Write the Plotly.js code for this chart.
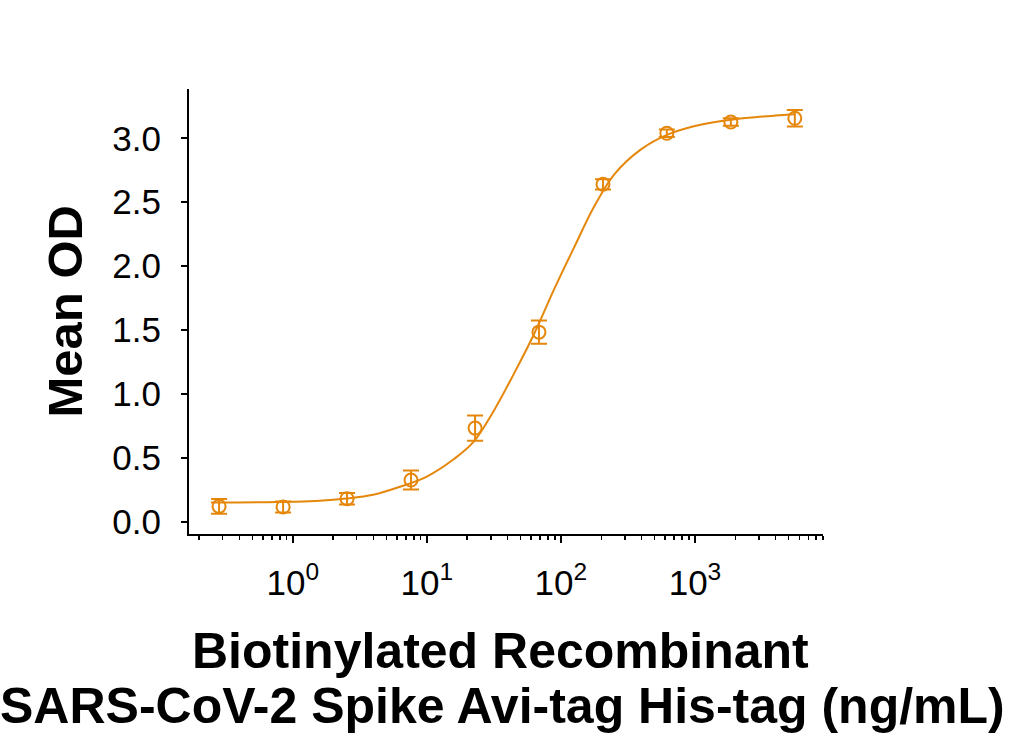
<!DOCTYPE html>
<html>
<head>
<meta charset="utf-8">
<script src="https://cdn.plot.ly/plotly-3.0.1.min.js"></script>
<style>
  html, body { margin: 0; padding: 0; background: #ffffff; }
  #chart { width: 1014px; height: 738px; }
</style>
</head>
<body>
<div id="chart"></div>
<script>
// Concentration of biotinylated spike protein (ng/mL), 3-fold serial dilution
const concentration = [0.282, 0.847, 2.54, 7.62, 22.9, 68.6, 206, 617, 1852, 5556];
// Mean optical density and its error for each concentration
const meanOD = [0.122, 0.117, 0.182, 0.328, 0.734, 1.484, 2.64, 3.039, 3.127, 3.156];
const odError = [0.057, 0.043, 0.045, 0.075, 0.098, 0.091, 0.04, 0.03, 0.03, 0.065];

// Fitted sigmoidal curve, sampled along the concentration axis
const fitConcentration = [0.245, 0.398, 0.631, 1, 1.585, 2.512, 3.981, 6.31, 10, 15.85, 22.39,
  31.62, 44.67, 63.1, 89.1, 125.9, 177.8, 251.2, 398.1, 631, 1000, 1585, 2512, 3981, 5623];
const fitOD = [0.152, 0.153, 0.155, 0.158, 0.165, 0.183, 0.213, 0.275, 0.355, 0.49, 0.628,
  0.87, 1.16, 1.47, 1.82, 2.15, 2.47, 2.72, 2.915, 3.03, 3.095, 3.135, 3.16, 3.177, 3.187];

// Axis ticks
const xMajorTicks = [1, 10, 100, 1000];
const xMajorLabels = ['10<sup>0</sup>', '10<sup>1</sup>', '10<sup>2</sup>', '10<sup>3</sup>'];
const yTicks = [0, 0.5, 1.0, 1.5, 2.0, 2.5, 3.0];

const xMinorTicks = [];
for (let decade = -1; decade <= 3; decade++) {
  for (let m = 2; m <= 9; m++) xMinorTicks.push(m * Math.pow(10, decade));
}

const orange = '#E5870B';
const font = 'Liberation Sans, Arial, Helvetica, sans-serif';

const fit = {
  x: fitConcentration,
  y: fitOD,
  type: 'scatter',
  mode: 'lines',
  line: { color: orange, width: 2, shape: 'spline', smoothing: 1 },
  hoverinfo: 'skip',
  showlegend: false
};

const points = {
  x: concentration,
  y: meanOD,
  type: 'scatter',
  mode: 'markers',
  marker: { symbol: 'circle-open', size: 13, color: orange, line: { width: 2, color: orange } },
  error_y: { type: 'data', array: odError, visible: true, color: orange, thickness: 2, width: 8 },
  showlegend: false
};

const layout = {
  width: 1014,
  height: 738,
  margin: { l: 189, r: 191, t: 89, b: 204 },
  paper_bgcolor: '#ffffff',
  plot_bgcolor: '#ffffff',
  showlegend: false,
  font: { family: font, color: '#000000' },
  xaxis: {
    type: 'log',
    range: [-0.774, 3.955],
    showgrid: false,
    zeroline: false,
    showline: true,
    linecolor: '#000000',
    linewidth: 2,
    ticks: 'outside',
    ticklen: 7,
    tickwidth: 2,
    tickcolor: '#000000',
    tickmode: 'array',
    tickvals: xMajorTicks,
    ticktext: xMajorLabels,
    tickfont: { family: font, size: 35, color: '#000000' },
    ticklabelstandoff: 10,
    minor: {
      tickmode: 'array',
      tickvals: xMinorTicks,
      ticks: 'outside',
      ticklen: 4,
      tickwidth: 1.5,
      tickcolor: '#000000',
      showgrid: false
    }
  },
  yaxis: {
    range: [-0.094, 3.385],
    showgrid: false,
    zeroline: false,
    showline: true,
    linecolor: '#000000',
    linewidth: 2,
    ticks: 'outside',
    ticklen: 6,
    tickwidth: 2,
    tickcolor: '#000000',
    tickmode: 'array',
    tickvals: yTicks,
    tickformat: '.1f',
    tickfont: { family: font, size: 35, color: '#000000' },
    ticklabelstandoff: 13
  },
  annotations: [
    {
      text: '<b>Mean OD</b>',
      xref: 'paper', yref: 'paper',
      x: -0.1956, y: 0.5,
      xanchor: 'center', yanchor: 'middle',
      textangle: -90,
      showarrow: false,
      font: { family: font, size: 49, color: '#000000' }
    },
    {
      text: '<b>Biotinylated Recombinant</b>',
      xref: 'paper', yref: 'paper',
      x: 0.492, y: -0.263,
      xanchor: 'center', yanchor: 'middle',
      showarrow: false,
      font: { family: font, size: 50, color: '#000000' }
    },
    {
      text: '<b>SARS-CoV-2 Spike Avi-tag His-tag (ng/mL)</b>',
      xref: 'paper', yref: 'paper',
      x: 0.495, y: -0.387,
      xanchor: 'center', yanchor: 'middle',
      showarrow: false,
      font: { family: font, size: 50, color: '#000000' }
    }
  ]
};

Plotly.newPlot('chart', [fit, points], layout, { staticPlot: true, displayModeBar: false });
</script>
</body>
</html>
